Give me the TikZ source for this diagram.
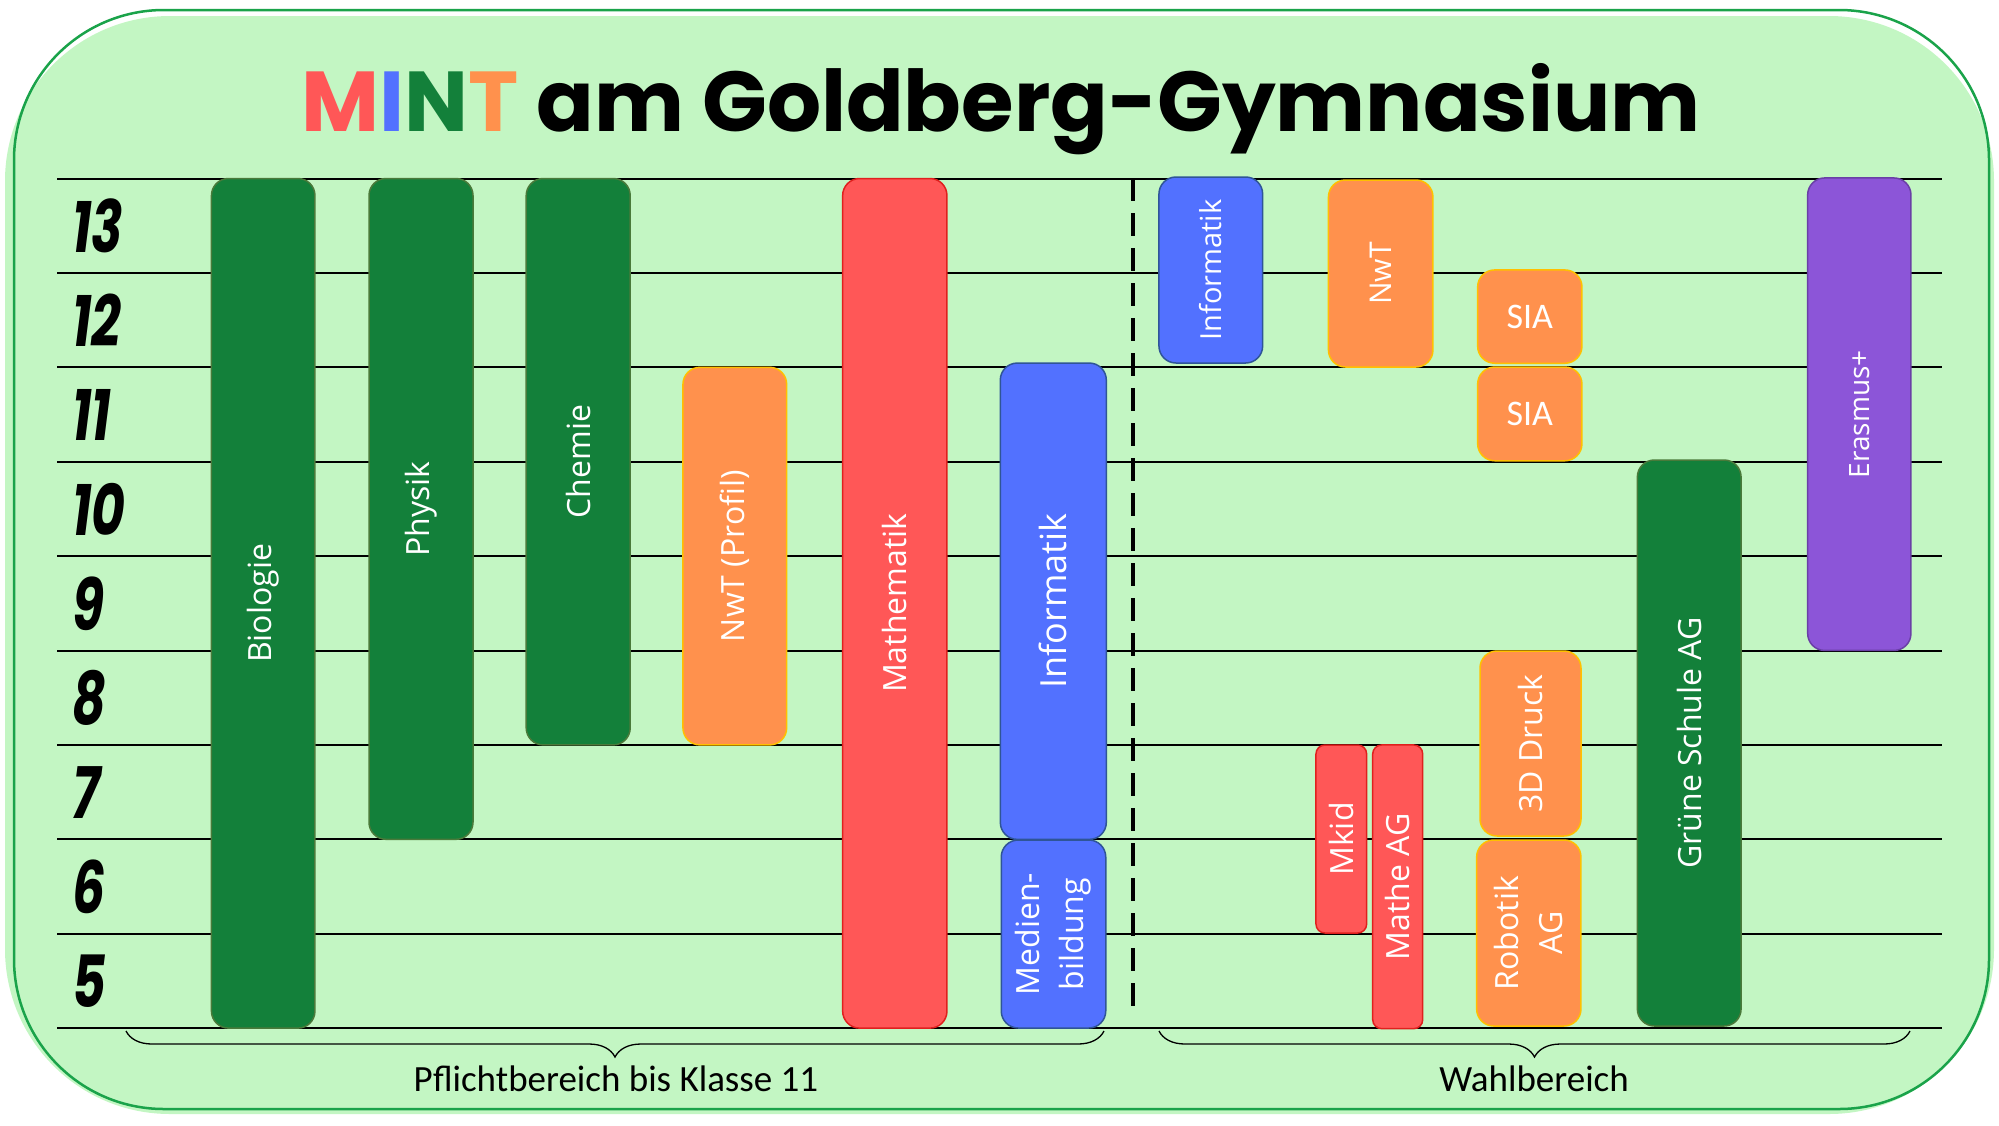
\documentclass[tikz,border=0pt]{standalone}
\usepackage{fontspec}
\usepackage{xcolor}
\usetikzlibrary{decorations.pathreplacing}
\newfontfamily\titlefont{Poppins}
\newfontfamily\barfont{Open Sans}
\newfontfamily\calfont{Carlito}
\definecolor{bggreen}{HTML}{C3F6C3}
\definecolor{bgline}{HTML}{1AA34A}
\definecolor{mintgreen}{HTML}{13803A}
\definecolor{mintgreenline}{HTML}{4A7A3A}
\definecolor{mintred}{HTML}{FF5757}
\definecolor{mintredline}{HTML}{E0201E}
\definecolor{mintblue}{HTML}{5271FF}
\definecolor{mintblueline}{HTML}{2F5597}
\definecolor{mintorange}{HTML}{FF914D}
\definecolor{mintorangeline}{HTML}{FFC000}
\definecolor{mintpurple}{HTML}{8C55D8}
\definecolor{mintpurpleline}{HTML}{6A3FA6}
\tikzstyle{titletext} = [font=\titlefont\bfseries\fontsize{85}{100}\selectfont]
\tikzstyle{gradetext} = [font=\titlefont\bfseries\itshape\fontsize{72}{80}\selectfont, inner sep=0pt]
\tikzstyle{gridline} = [black, line width=2pt]
\tikzstyle{bar} = [rectangle, rounded corners=17pt, inner sep=0pt, line width=1.5pt,
    text=white, align=center, font=\barfont\fontsize{32}{44}\selectfont]
\tikzstyle{vbar} = [bar, rotate=90]
\tikzstyle{greenbar} = [fill=mintgreen, draw=mintgreenline]
\tikzstyle{redbar} = [fill=mintred, draw=mintredline]
\tikzstyle{bluebar} = [fill=mintblue, draw=mintblueline]
\tikzstyle{orangebar} = [fill=mintorange, draw=mintorangeline]
\tikzstyle{purplebar} = [fill=mintpurple, draw=mintpurpleline]
\tikzstyle{trenn} = [black, line width=4.5pt, dash pattern=on 23pt off 12pt]
\tikzstyle{klammer} = [black, line width=1.3pt, decorate, decoration={brace, mirror, amplitude=26pt}]
\tikzstyle{bereich} = [font=\calfont\fontsize{37}{42}\selectfont, inner sep=0pt]

\begin{document}
\begin{tikzpicture}[x=1pt,y=-1pt]
\useasboundingbox (0,0) rectangle (1999,1125);
% Hintergrund
\fill[bggreen, rounded corners=165pt] (5,16) rectangle (1994,1114);
\draw[bgline, line width=2.5pt, rounded corners=150pt] (14,10) rectangle (1989,1109);

% Titel
\node[titletext, anchor=base] (title) at (1001,131) {\textcolor{mintred}{M}\textcolor{mintblue}{I}\textcolor{mintgreen}{N}\textcolor{mintorange}{T} am Goldberg-Gymnasium};

% Klassenstufen
\foreach \k in {0,...,9}
    \draw[gridline] (57,178.5+94.4*\k) -- (1942,178.5+94.4*\k);
\foreach \g [count=\k from 0] in {13,...,5}
    \node[gradetext, anchor=west] (k\g) at (72,225.7+94.4*\k) {\scalebox{0.72}[1]{\g}};

% Pflichtbereich
\node[vbar, greenbar, minimum width=849.6pt, minimum height=103.5pt] (bio) at (263.2,603.3) {Biologie};
\node[vbar, greenbar, minimum width=660.8pt, minimum height=104pt] (phys) at (421,508.9) {Physik};
\node[vbar, greenbar, minimum width=566.4pt, minimum height=104pt] (chem) at (578.2,461.7) {Chemie};
\node[vbar, orangebar, minimum width=377.6pt, minimum height=103.7pt] (nwtp) at (734.8,556.1) {NwT (Profil)};
\node[vbar, redbar, minimum width=849.6pt, minimum height=104.3pt] (mathe) at (894.8,603.3) {Mathematik};
\node[vbar, bluebar, minimum width=476.3pt, minimum height=106pt,
    font=\barfont\fontsize{36}{44}\selectfont] (info) at (1053.3,601.2) {Informatik};
\node[vbar, bluebar, minimum width=188pt, minimum height=104.5pt] (medien) at (1053.5,934) {Medien-\\bildung};

% Trennlinie
\coordinate (dtop) at (1133,178);
\coordinate (dbot) at (1133,1016);
\draw[trenn] (dtop) -- (dbot);

% Wahlbereich
\node[vbar, bluebar, minimum width=186pt, minimum height=103.7pt,
    font=\barfont\fontsize{29}{36}\selectfont] (infow) at (1210.8,270) {Informatik};
\node[vbar, orangebar, minimum width=187pt, minimum height=104.5pt,
    font=\barfont\fontsize{30}{36}\selectfont] (nwt) at (1380.7,273.5) {NwT};
\node[bar, orangebar, minimum width=104.3pt, minimum height=93.3pt,
    font=\calfont\fontsize{36}{40}\selectfont] (sia12) at (1529.8,316.6) {SIA};
\node[bar, orangebar, minimum width=104.3pt, minimum height=93.7pt,
    font=\calfont\fontsize{36}{40}\selectfont] (sia11) at (1529.8,413.9) {SIA};
\node[vbar, purplebar, minimum width=472.5pt, minimum height=103.3pt,
    font=\barfont\fontsize{28}{36}\selectfont] (eras) at (1859.3,414.2) {Erasmus+};
\node[vbar, greenbar, minimum width=566pt, minimum height=103.7pt] (gruen) at (1689.2,743) {Grüne Schule AG};
\node[vbar, redbar, rounded corners=9pt, minimum width=188pt, minimum height=50.7pt] (mkid) at (1341.3,839) {Mkid};
\node[vbar, redbar, rounded corners=9pt, minimum width=283.7pt, minimum height=50pt] (matheag) at (1397.7,886.8) {Mathe AG};
\node[vbar, orangebar, minimum width=185pt, minimum height=101pt] (druck) at (1530.5,743.5) {3D Druck};
\node[vbar, orangebar, minimum width=186pt, minimum height=104.3pt] (robotik) at (1528.8,933) {Robotik\\AG};

% Klammern
\coordinate (pl) at (126,1031);
\coordinate (pr) at (1104,1031);
\coordinate (wl) at (1159,1031);
\coordinate (wr) at (1910,1031);
\draw[klammer] (pl) -- (pr);
\draw[klammer] (wl) -- (wr);
\node[bereich, anchor=base] (pflicht) at (616,1091) {Pflichtbereich bis Klasse 11};
\node[bereich, anchor=base] (wahl) at (1534,1091) {Wahlbereich};
\end{tikzpicture}
\end{document}
